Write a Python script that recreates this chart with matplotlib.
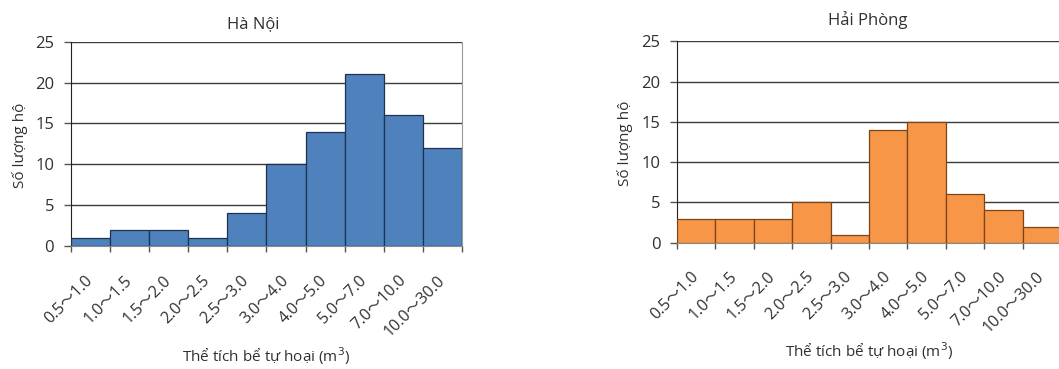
import matplotlib
matplotlib.use("Agg")
import matplotlib.pyplot as plt
import numpy as np

plt.rcParams['font.family'] = ['Open Sans', 'Noto Sans CJK JP', 'DejaVu Sans']

categories = ["0.5～1.0", "1.0～1.5", "1.5～2.0", "2.0～2.5", "2.5～3.0",
              "3.0～4.0", "4.0～5.0", "5.0～7.0", "7.0～10.0", "10.0～30.0"]
hanoi = [1, 2, 2, 1, 4, 10, 14, 21, 16, 12]
haiphong = [3, 3, 3, 5, 1, 14, 15, 6, 4, 2]
yticks = [0, 5, 10, 15, 20, 25]

TXT = '#303030'
fig = plt.figure(figsize=(10.59, 3.69), dpi=100)

def draw(rect, values, title, face, edge, show_right, title_xy, ylab_x):
    ax = fig.add_axes(rect)
    n = len(values)
    x = np.arange(n)
    ax.bar(x, values, width=1.0, align='edge', color=face, edgecolor=edge,
           linewidth=0.9, zorder=3)
    ax.set_xlim(0, n)
    ax.set_ylim(0, 25)
    ax.set_yticks(yticks)
    ax.yaxis.grid(True, color='#3c3c3c', linewidth=1.0, zorder=0)
    ax.set_axisbelow(True)
    ax.set_xticks(np.arange(n + 1))
    ax.set_xticklabels([])
    ax.set_xticks(x + 0.5, minor=True)
    ax.set_xticklabels(categories, minor=True, rotation=45, ha='right',
                       va='center', rotation_mode='anchor', fontsize=11.5,
                       color=TXT)
    ax.tick_params(axis='x', which='major', length=4.5, width=1, color='#555555')
    ax.tick_params(axis='x', which='minor', length=0, pad=23)
    ax.tick_params(axis='y', length=5, width=1, color='#555555', labelsize=12,
                   labelcolor=TXT, pad=7)
    ax.spines['top'].set_visible(False)
    ax.spines['left'].set_color('#222222')
    ax.spines['bottom'].set_color('#888888')
    if show_right:
        ax.spines['right'].set_color('#999999')
    else:
        ax.spines['right'].set_visible(False)
    ax.text(title_xy[0], title_xy[1], title, transform=ax.transAxes,
            ha='center', va='center', fontsize=12, color=TXT)
    ax.set_ylabel("Số lượng hộ", fontsize=11, color=TXT)
    ax.yaxis.label.set_va('center')
    ax.yaxis.set_label_coords(ylab_x, 0.494)
    ax.set_xlabel("Thể tích bể tự hoại (m$^3$)", fontsize=11, color=TXT)
    ax.xaxis.label.set_va('center')
    ax.xaxis.set_label_coords(0.5, -0.54)
    return ax

draw([0.0668, 0.3333, 0.3695, 0.5537], hanoi, "Hà Nội",
     '#4F81BD', '#1e3350', True, (0.466, 1.087), -0.13)
draw([0.6393, 0.3423, 0.3626, 0.5458], haiphong, "Hải Phòng",
     '#F79646', '#7a4318', False, (0.496, 1.106), -0.135)

fig.savefig("out.png", dpi=100)
